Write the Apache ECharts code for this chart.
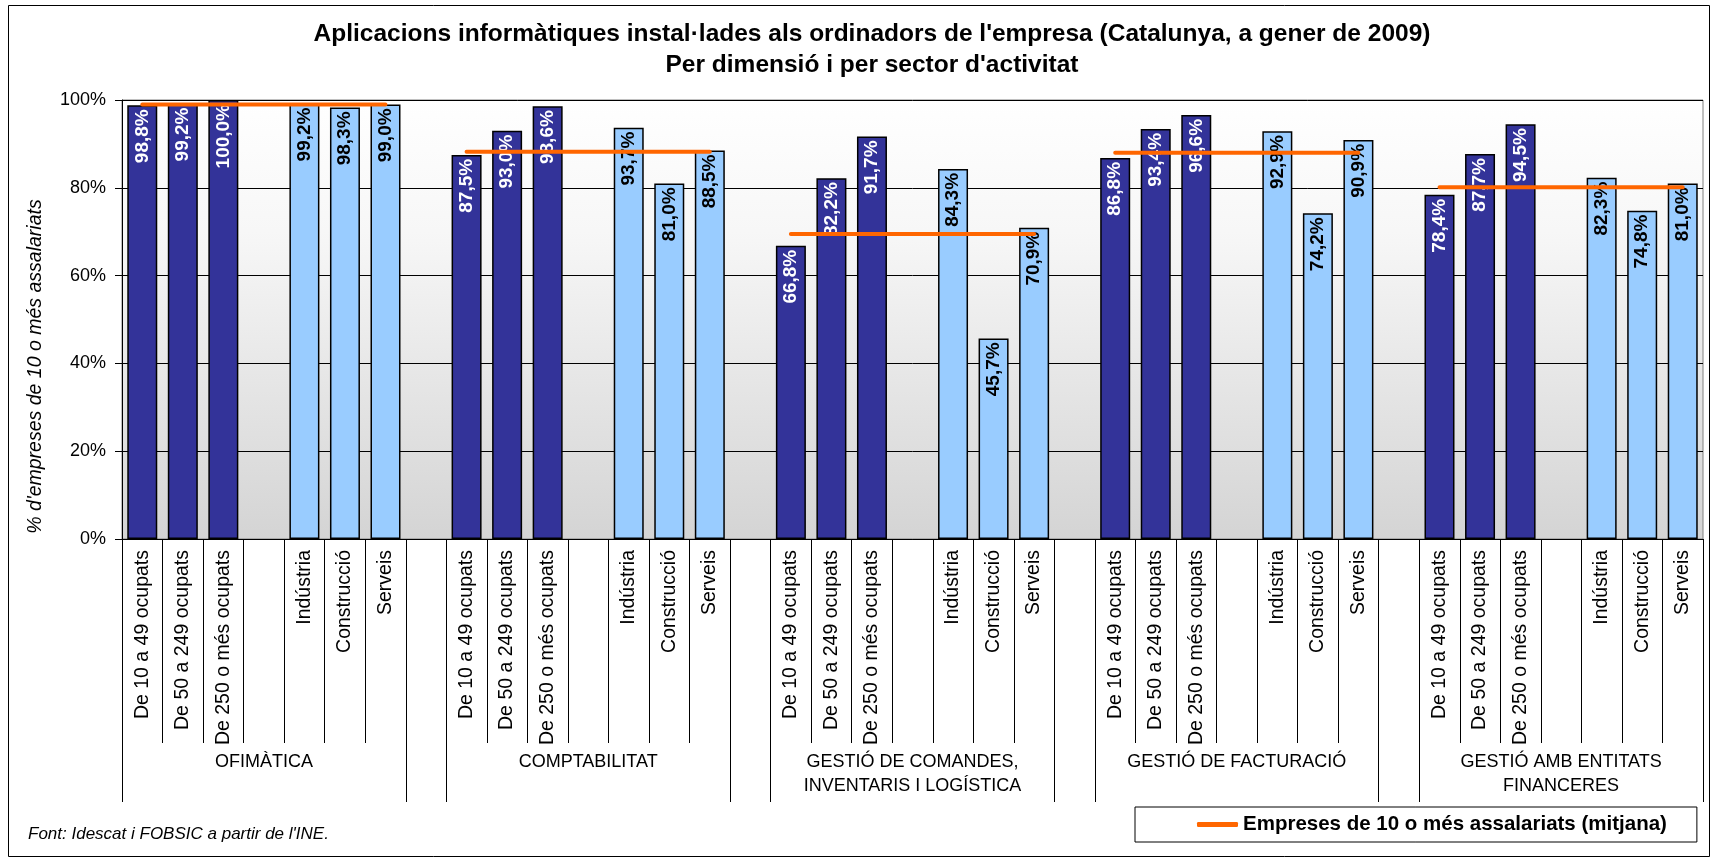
<!DOCTYPE html>
<html>
<head>
<meta charset="utf-8">
<title>Aplicacions informàtiques</title>
<script src="https://cdn.jsdelivr.net/npm/echarts@6/dist/echarts.min.js"></script>
<style>
  html, body { margin: 0; padding: 0; background: #fff; }
  #chart { width: 1711px; height: 858px; }
</style>
</head>
<body>
<div id="chart"></div>
<script>
// grups d'aplicacions (eix inferior)
const groups = [
  'OFIMÀTICA',
  'COMPTABILITAT',
  'GESTIÓ DE COMANDES,\nINVENTARIS I LOGÍSTICA',
  'GESTIÓ DE FACTURACIÓ',
  'GESTIÓ AMB ENTITATS\nFINANCERES'
]
const sizeLabels   = ['De 10 a 49 ocupats', 'De 50 a 249 ocupats', 'De 250 o més ocupats']
const sectorLabels = ['Indústria', 'Construcció', 'Serveis']

// % per dimensió, un array per grup
const sizeValues = [
  [98.8, 99.2, 100.0],
  [87.5, 93.0, 98.6],
  [66.8, 82.2, 91.7],
  [86.8, 93.4, 96.6],
  [78.4, 87.7, 94.5]
]
// % per sector
const sectorValues = [
  [99.2, 98.3, 99.0],
  [93.7, 81.0, 88.5],
  [84.3, 45.7, 70.9],
  [92.9, 74.2, 90.9],
  [82.3, 74.8, 81.0]
]
// mitjana empreses de 10 o més assalariats
const averages = [99.0, 88.2, 69.5, 88.0, 80.1]
const yTicks = [0, 20, 40, 60, 80, 100]

const font = "'Liberation Sans', Arial, sans-serif"

// categories: 3 dimensions, buit, 3 sectors, i un buit entre grups
const categories = []
const sizeData = []
const sectorData = []
const avgData = []
const groupEdges = []
const groupCenters = []
groups.forEach((g, i) => {
  const start = categories.length
  sizeLabels.forEach((l, j) => {
    categories.push(l); sizeData.push(sizeValues[i][j]); sectorData.push(null); avgData.push(averages[i])
  })
  categories.push(''); sizeData.push(null); sectorData.push(null); avgData.push(averages[i])
  sectorLabels.forEach((l, j) => {
    categories.push(l); sizeData.push(null); sectorData.push(sectorValues[i][j]); avgData.push(averages[i])
  })
  groupEdges.push(start, categories.length)
  groupCenters.push((start + categories.length) / 2)
  if (i < groups.length - 1) {
    categories.push(''); sizeData.push(null); sectorData.push(null); avgData.push(null)
  }
})

const fmt = p => p.value == null ? '' : p.value.toFixed(1).replace('.', ',') + '%'

const barLabel = color => ({
  show: true,
  position: 'insideTop',
  rotate: 90,
  align: 'right',
  verticalAlign: 'middle',
  distance: 4,
  color: color,
  fontFamily: font,
  fontWeight: 'bold',
  fontSize: 19,
  formatter: fmt
})

const chart = echarts.init(document.getElementById('chart'))

chart.setOption({
  animation: false,
  textStyle: { fontFamily: font },
  title: [{
    text: "Aplicacions informàtiques instal·lades als ordinadors de l'empresa (Catalunya, a gener de 2009)\nPer dimensió i per sector d'activitat",
    left: 872, top: 19, padding: 0,
    textAlign: 'center',
    textStyle: { fontFamily: font, fontSize: 24.5, fontWeight: 'bold', color: '#000', lineHeight: 30.5 }
  }, {
    text: "Font: Idescat i FOBSIC a partir de l'INE.",
    left: 28, top: 826, padding: 0,
    textStyle: { fontFamily: font, fontSize: 17, fontStyle: 'italic', fontWeight: 'normal', color: '#000' }
  }],
  legend: {
    left: 1135, top: 807,
    padding: [7, 30, 7, 62],
    borderColor: '#000', borderWidth: 1,
    itemWidth: 41, itemHeight: 5,
    data: [{ name: 'Empreses de 10 o més assalariats (mitjana)', icon: 'roundRect' }],
    textStyle: { fontFamily: font, fontSize: 20.5, fontWeight: 'bold', color: '#000' }
  },
  grid: {
    left: 122, right: 8, top: 100, bottom: 319,
    show: true,
    borderColor: '#808080', borderWidth: 1,
    backgroundColor: new echarts.graphic.LinearGradient(0, 0, 0, 1, [
      { offset: 0, color: '#ffffff' },
      { offset: 0.3, color: '#f7f7f7' },
      { offset: 1, color: '#d4d4d4' }
    ])
  },
  xAxis: [{
    type: 'category',
    data: categories,
    axisLine: { lineStyle: { color: '#000', width: 1 } },
    axisTick: { show: true, length: 204, lineStyle: { color: '#000' } },
    axisLabel: {
      interval: 0, rotate: 90, margin: 11,
      color: '#000', fontFamily: font, fontSize: 19.5
    },
    splitLine: { show: false }
  }, {
    type: 'value',
    min: 0, max: categories.length,
    position: 'bottom',
    axisLine: { show: false },
    axisTick: { show: true, length: 263, customValues: groupEdges, lineStyle: { color: '#000' } },
    axisLabel: {
      customValues: groupCenters,
      formatter: v => groups[groupCenters.indexOf(v)] || '',
      margin: 211, lineHeight: 24,
      color: '#000', fontFamily: font, fontSize: 18
    },
    splitLine: { show: false }
  }],
  yAxis: {
    type: 'value',
    min: yTicks[0], max: yTicks[yTicks.length - 1], interval: 20,
    name: "% d'empreses de 10 o més assalariats",
    nameLocation: 'middle',
    nameGap: 76,
    nameTextStyle: {
      fontFamily: font, fontSize: 19.5, fontStyle: 'italic', color: '#000',
      padding: [0, 94, 0, 0]
    },
    axisLine: { show: true, lineStyle: { color: '#000' } },
    axisTick: { show: true, length: 7, lineStyle: { color: '#000' } },
    axisLabel: { formatter: '{value}%', margin: 16, color: '#000', fontFamily: font, fontSize: 18 },
    splitLine: { lineStyle: { color: '#000', width: 1 } }
  },
  series: [{
    name: 'Dimensió',
    type: 'bar',
    data: sizeData,
    barCategoryGap: '26%',
    barGap: '-100%',
    itemStyle: { color: '#333399', borderColor: '#000', borderWidth: 1.5 },
    label: barLabel('#fff')
  }, {
    name: 'Sector',
    type: 'bar',
    data: sectorData,
    barCategoryGap: '26%',
    barGap: '-100%',
    itemStyle: { color: '#99ccff', borderColor: '#000', borderWidth: 1.5 },
    label: barLabel('#000')
  }, {
    name: 'Empreses de 10 o més assalariats (mitjana)',
    type: 'line',
    data: avgData,
    symbol: 'none',
    connectNulls: false,
    z: 3,
    lineStyle: { color: '#ff6600', width: 4, cap: 'round' },
    itemStyle: { color: '#ff6600' }
  }],
  graphic: [{
    type: 'rect',
    silent: true,
    shape: { x: 8.5, y: 5.5, width: 1701, height: 851 },
    style: { fill: null, stroke: '#000', lineWidth: 1 }
  }]
})

window.addEventListener('resize', () => chart.resize())
</script>
</body>
</html>
